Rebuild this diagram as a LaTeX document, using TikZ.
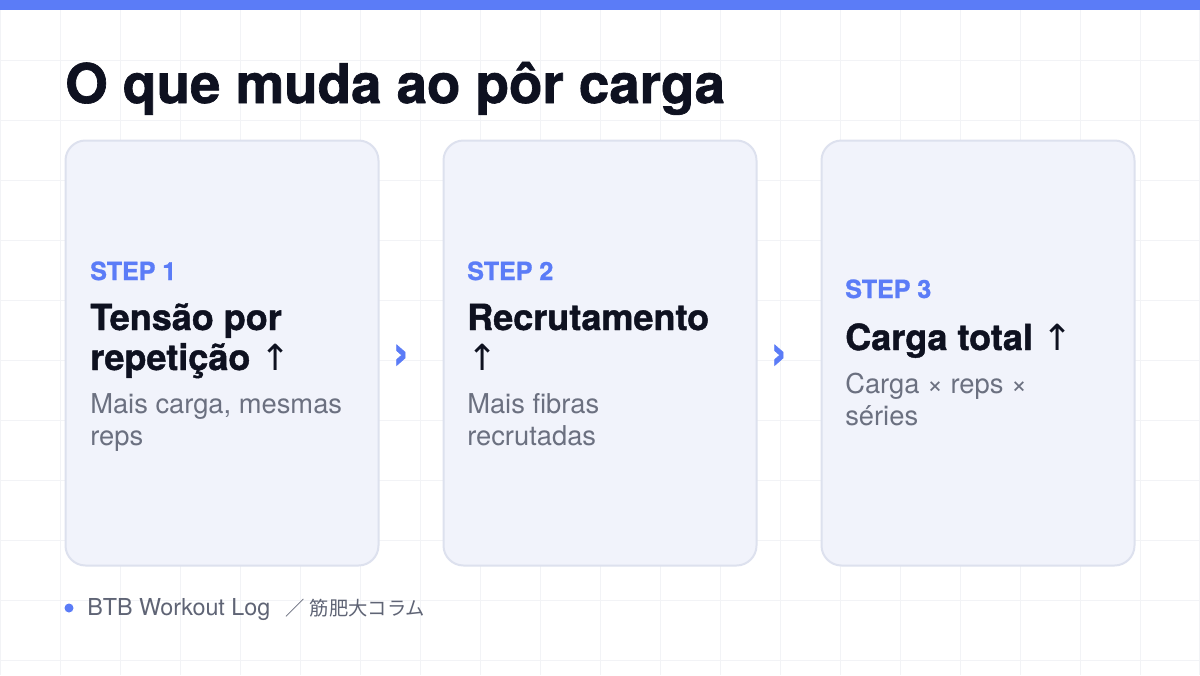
\documentclass[tikz,border=0pt]{standalone}
\usepackage{fontspec}
\setmainfont{TeX Gyre Heros}
\newfontfamily\heavyfont{texgyreheros-bold.otf}[FakeBold=1.2]
\newfontfamily\jpfont{Noto Sans CJK JP}
\newfontfamily\arrowfont{DejaVu Sans}

\definecolor{barblue}{RGB}{91,124,247}
\definecolor{inkdark}{RGB}{14,17,32}
\definecolor{subgray}{RGB}{107,112,128}
\definecolor{footgray}{RGB}{95,100,117}
\definecolor{cardfill}{RGB}{241,243,251}
\definecolor{cardline}{RGB}{221,225,238}
\definecolor{gridline}{RGB}{242,243,246}

\begin{document}
\begin{tikzpicture}[x=0.75pt,y=0.75pt,yscale=-1,xscale=1,
  card/.style={draw=cardline, line width=1.5pt, fill=cardfill, rounded corners=15pt, minimum width=234.75pt, minimum height=318.75pt, inner sep=0pt},
  steplbl/.style={anchor=base west, inner sep=0pt, text=barblue, font=\heavyfont\fontsize{18.75}{22}\selectfont},
  headtxt/.style={anchor=base west, inner sep=0pt, align=left, text=inkdark, font=\heavyfont\fontsize{27}{30}\selectfont},
  subtxt/.style={anchor=base west, inner sep=0pt, align=left, text=subgray, font=\fontsize{20.5}{24}\selectfont},
  chev/.style={inner sep=0pt, xshift=-7.5pt, yshift=-3pt, text=barblue, font=\heavyfont\fontsize{38}{38}\selectfont}]
%set diagram size to 1200 x 675
\useasboundingbox (0,0) rectangle (1200,675);

%Background grid
\fill [white] (0,0) rectangle (1200,675);
\draw [gridline, line width=0.75pt, step=60] (0,0) grid (1200,675);
%Top bar
\fill [barblue] (0,0) rectangle (1200,10);

% Title
\node (title) at (65,103) [anchor=base west, inner sep=0pt, text=inkdark, font=\heavyfont\fontsize{41}{48}\selectfont] {O que muda ao pôr carga};

%Shape: Cards
\node [card] (card1) at (222,353) {};
\node [card] (card2) at (600,353) {};
\node [card] (card3) at (978,353) {};

% Card 1 (base = last line)
\node [steplbl] (step1) at (90,280) {STEP 1};
\node [headtxt] (head1) at (90,370) {Tensão por\\repetição {\arrowfont ↑}};
\node [subtxt] (sub1) at (90,445) {Mais carga, mesmas\\reps};

% Card 2
\node [steplbl] (step2) at (467,280) {STEP 2};
\node [headtxt] (head2) at (467,370) {Recrutamento\\{\arrowfont ↑}};
\node [subtxt] (sub2) at (467,445) {Mais fibras\\recrutadas};

% Card 3
\node [steplbl] (step3) at (845,298) {STEP 3};
\node [headtxt] (head3) at (845,350) {Carga total {\arrowfont ↑}};
\node [subtxt] (sub3) at (845,425) {Carga × reps ×\\séries};

% Chevrons between cards
\path (card1.east) -- (card2.west) node [chev, midway] (chev12) {›};
\path (card2.east) -- (card3.west) node [chev, midway] (chev23) {›};

% Footer
\fill [barblue] (69,608) circle (4.5) coordinate (dot);
\node (foot) at (87,615) [anchor=base west, inner sep=0pt, text=footgray, font=\fontsize{17.5}{20}\selectfont] {BTB Workout Log\hspace{11pt}{\jpfont\fontsize{14.5}{18}\selectfont ／\hspace{4pt}筋肥大コラム}};

\end{tikzpicture}
\end{document}
